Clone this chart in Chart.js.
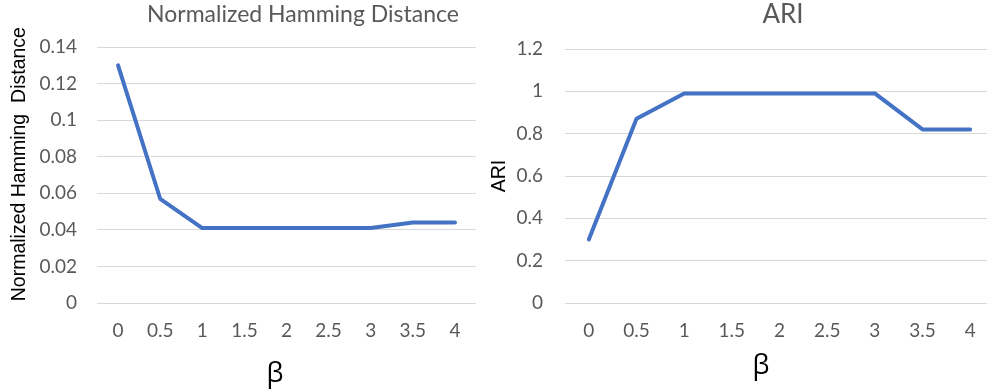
<!DOCTYPE html>
<html>
<head>
<meta charset="utf-8">
<script src="https://cdn.jsdelivr.net/npm/chart.js@4/dist/chart.umd.min.js"></script>
<style>
  html, body { margin: 0; padding: 0; background: #fff; }
  #wrap { position: relative; width: 987px; height: 392px; overflow: hidden; }
  canvas { position: absolute; top: 0; }
  .lbl { position: absolute; white-space: pre; line-height: 1; transform: translateX(-50%); }
  .title { font-family: Lato, "Open Sans", sans-serif; color: #595959; }
  .beta { font-family: "Open Sans", sans-serif; color: #000; font-size: 27px; }
</style>
</head>
<body>
<div id="wrap">
  <canvas id="hamming" width="490" height="392" style="left:0"></canvas>
  <canvas id="ari" width="504" height="392" style="left:490px"></canvas>
  <div class="lbl title" style="left:303px;top:2px;font-size:23px">Normalized Hamming Distance</div>
  <div class="lbl title" style="left:783px;top:0px;font-size:26px">ARI</div>
  <div class="lbl beta" style="left:275px;top:358px">β</div>
  <div class="lbl beta" style="left:761px;top:350px">β</div>
</div>
<script>
// β values shared by both panels
const betaLabels = ['0', '0.5', '1', '1.5', '2', '2.5', '3', '3.5', '4'];

// Normalized Hamming distance per β
const hammingValues = [0.13, 0.057, 0.041, 0.041, 0.041, 0.041, 0.041, 0.044, 0.044];
const hammingTicks = [0, 0.02, 0.04, 0.06, 0.08, 0.10, 0.12, 0.14];

// Adjusted Rand index per β
const ariValues = [0.30, 0.87, 0.99, 0.99, 0.99, 0.99, 0.99, 0.82, 0.82];
const ariTicks = [0, 0.2, 0.4, 0.6, 0.8, 1.0, 1.2];

const LINE_BLUE = '#4472C4';
const GRID_GRAY = '#d9d9d9';
const TICK_GRAY = '#595959';

function makeChart(canvasId, values, yTicks, yTitle, g) {
  const step = yTicks[1] - yTicks[0];
  return new Chart(document.getElementById(canvasId), {
    type: 'line',
    data: {
      labels: betaLabels,
      datasets: [{
        data: values,
        borderColor: LINE_BLUE,
        borderWidth: 4,
        borderCapStyle: 'round',
        borderJoinStyle: 'round',
        pointRadius: 0,
        pointHoverRadius: 0,
        tension: 0,
        fill: false
      }]
    },
    options: {
      responsive: false,
      devicePixelRatio: 1,
      animation: false,
      events: [],
      layout: { padding: { top: g.padTop, right: g.padRight, left: 0, bottom: 0 } },
      plugins: { legend: { display: false }, tooltip: { enabled: false }, title: { display: false } },
      scales: {
        x: {
          type: 'category',
          offset: true,
          grid: { display: false, drawTicks: false },
          border: { display: false },
          ticks: { color: TICK_GRAY, font: { family: 'Lato', size: 19 }, padding: g.xTickPad, maxRotation: 0, autoSkip: false },
          afterFit: s => { s.height = g.xHeight; }
        },
        y: {
          min: yTicks[0],
          max: yTicks[yTicks.length - 1],
          grid: { color: GRID_GRAY, lineWidth: 1, drawTicks: false },
          border: { display: false },
          ticks: {
            stepSize: step,
            color: TICK_GRAY,
            font: { family: 'Lato', size: 19 },
            padding: g.yTickPad,
            callback: v => String(parseFloat(v.toFixed(4)))
          },
          title: {
            display: true,
            text: yTitle,
            color: '#000',
            font: { family: 'Liberation Sans', size: 19.5, lineHeight: 1 },
            padding: { top: g.yTitlePad, bottom: 0 }
          },
          afterFit: s => { s.width = g.yWidth; }
        }
      }
    }
  });
}

// leading spaces lift the long rotated title a little higher along the axis
makeChart('hamming', hammingValues, hammingTicks, '    Normalized Hamming  Distance', {
  padTop: 47, padRight: 14, xHeight: 89, yWidth: 97, xTickPad: 16, yTickPad: 20, yTitlePad: 10
});
makeChart('ari', ariValues, ariTicks, 'ARI', {
  padTop: 49, padRight: 0, xHeight: 89, yWidth: 75, xTickPad: 16, yTickPad: 22, yTitlePad: 0
});
</script>
</body>
</html>
